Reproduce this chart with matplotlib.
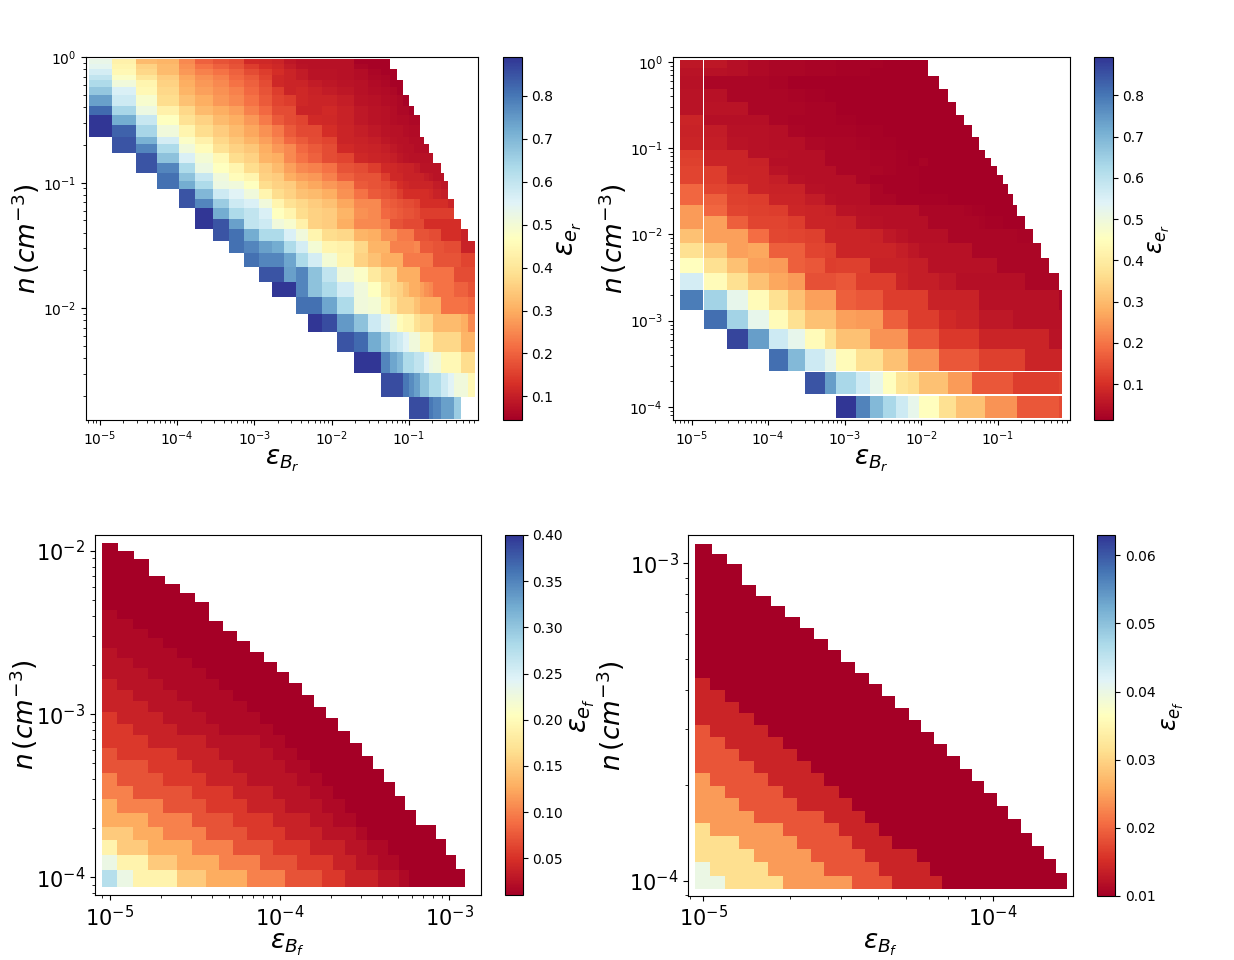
import numpy as np
import matplotlib
matplotlib.use('Agg')
import matplotlib.pyplot as plt
from matplotlib.cm import ScalarMappable
from matplotlib.colors import Normalize

nan = np.nan

# ---- panel 1: reverse shock, first set (log10 of eps_B and n) ----
a_x = [-5.142, -4.845, -4.534, -4.262, -3.977, -3.770, -3.537, -3.330, -3.136, -2.942, -2.773, -2.618,
       -2.463, -2.307, -2.126, -1.932, -1.712, -1.531, -1.362, -1.246, -1.155, -1.078, -1.000, -0.935,
       -0.858, -0.806, -0.741, -0.689, -0.586, -0.547, -0.495, -0.417, -0.327, -0.236, -0.146]
a_y = [-0.010, -0.053, -0.093, -0.141, -0.181, -0.237, -0.301, -0.388, -0.460, -0.540, -0.636, -0.691,
       -0.763, -0.843, -0.923, -0.986, -1.050, -1.130, -1.202, -1.289, -1.369, -1.465, -1.561, -1.672,
       -1.792, -1.911, -2.047, -2.191, -2.350, -2.518, -2.709, -2.884]
a_start = [0, 0, 0, 0, 0, 0, 0, 0, 0, 0, 1, 1, 2, 2, 3, 3, 4, 4, 5, 5, 6, 7, 8, 9, 10, 12, 13, 15, 16, 18, 22]
a_rows = [
    [.53, .43, .32, .31, .25, .2, .18, .17, .12, .115, .11, .085, .075, .075, .075, .075, .05, .05, .05],
    [.54, .44, .36, .32, .26, .22, .2, .18, .15, .125, .115, .095, .08, .075, .075, .075, .055, .05, .05],
    [.57, .45, .37, .32, .27, .24, .22, .2, .17, .15, .125, .11, .095, .08, .08, .075, .07, .055, .05, .05],
    [.60, .48, .40, .35, .29, .26, .24, .21, .19, .16, .115, .11, .095, .08, .08, .075, .07, .06, .055, .05],
    [.63, .51, .44, .36, .30, .27, .25, .22, .2, .17, .115, .11, .11, .095, .085, .08, .075, .065, .06, .05, .05],
    [.67, .56, .45, .37, .31, .28, .26, .24, .21, .18, .15, .11, .115, .105, .095, .085, .075, .07, .065, .06, .05],
    [.74, .58, .49, .38, .33, .30, .27, .25, .22, .19, .16, .15, .115, .11, .11, .10, .08, .075, .07, .065, .06, .05],
    [.82, .64, .52, .43, .37, .32, .30, .28, .24, .21, .17, .17, .11, .11, .12, .105, .09, .08, .075, .07, .06, .06, .05],
    [.89, .72, .59, .47, .39, .36, .32, .30, .27, .23, .19, .17, .16, .12, .115, .105, .09, .08, .075, .07, .065, .065, .06, .06],
    [.89, .83, .64, .51, .44, .38, .35, .32, .29, .26, .23, .19, .165, .165, .125, .11, .10, .09, .08, .075, .075, .07, .065, .065],
    [.85, .71, .57, .48, .43, .37, .34, .31, .28, .25, .21, .19, .17, .16, .11, .105, .10, .085, .08, .075, .075, .07, .07, .065],
    [.85, .78, .63, .51, .46, .39, .36, .34, .30, .27, .25, .21, .19, .17, .12, .11, .105, .10, .09, .08, .075, .075, .07, .07, .07],
    [.85, .68, .56, .50, .45, .38, .36, .31, .30, .25, .22, .2, .17, .16, .115, .11, .105, .10, .085, .08, .075, .075, .075, .075, .075],
    [.85, .78, .63, .52, .47, .44, .38, .35, .32, .28, .25, .24, .22, .18, .17, .15, .12, .115, .11, .105, .105, .095, .08, .08, .08, .08],
    [.81, .68, .59, .51, .46, .44, .36, .35, .30, .28, .27, .24, .2, .18, .18, .15, .115, .115, .105, .105, .105, .105, .095, .085, .08, .08],
    [.81, .72, .63, .52, .51, .47, .38, .36, .35, .31, .29, .27, .25, .19, .18, .17, .15, .125, .115, .11, .11, .11, .11, .11, .095, .085, .085],
    [.85, .70, .58, .55, .51, .44, .38, .36, .33, .32, .30, .26, .22, .19, .18, .17, .15, .125, .125, .125, .125, .125, .12, .105, .10, .10],
    [.85, .78, .66, .58, .56, .51, .44, .39, .37, .35, .33, .29, .25, .25, .2, .19, .18, .17, .17, .16, .125, .125, .125, .125, .125, .125, .11],
    [.89, .72, .63, .60, .56, .47, .44, .38, .36, .35, .31, .26, .25, .21, .2, .19, .18, .18, .17, .15, .15, .15, .15, .15, .15, .15],
    [.89, .85, .74, .6, .58, .51, .49, .43, .36, .35, .30, .25, .25, .24, .18, .18, .165, .165, .165, .165, .125, .125, .125, .125, .125, .125, .125],
    [.85, .81, .72, .63, .63, .56, .51, .44, .38, .37, .31, .30, .26, .26, .23, .23, .23, .18, .18, .18, .17, .17, .125, .125, .125, .125, .105],
    [.81, .78, .74, .72, .63, .57, .50, .44, .43, .37, .31, .31, .24, .24, .24, .24, .25, .19, .19, .19, .18, .18, .17, .17, .17, .105, .105],
    [.81, .78, .78, .73, .63, .57, .50, .44, .36, .33, .30, .30, .30, .23, .23, .23, .23, .23, .23, .18, .18, .18, .18, .18, .16, .16],
    [.85, .85, .74, .78, .68, .6, .51, .48, .41, .37, .37, .3, .3, .3, .3, .22, .22, .22, .22, .22, .22, .22, .17, .17, .17],
    [.89, .89, .78, .68, .63, .57, .51, .47, .40, .37, .36, .33, .30, .30, .28, .26, .25, .22, .22, .22, .22, .2, .2, .18],
    [.81, .81, .73, .63, .51, .5, .44, .40, .36, .36, .36, .33, .3, .3, .3, .3, .22, .22, .22, .22, .22, .21],
    [.89, .86, .75, .68, .58, .54, .51, .46, .44, .44, .39, .37, .37, .37, .32, .32, .32, .32, .32, .3, .25],
    [.85, .82, .72, .66, .6, .58, .55, .51, .51, .44, .44, .44, .37, .37, .37, .37, .37, .31, .31],
    [.89, .89, .78, .73, .70, .63, .63, .6, .6, .55, .52, .51, .45, .45, .45, .45, .38, .38],
    [.86, .86, .86, .8, .77, .74, .68, .68, .63, .63, .58, .58, .55, .51, .51, .45],
    [.86, .86, .86, .86, .8, .78, .74, .74, .74, .66],
]
a_cbar_ticks = [.1, .2, .3, .4, .5, .6, .7, .8]

# ---- panel 2: reverse shock, second set ----
b_x = [-5.153, -4.856, -4.835, -4.542, -4.260, -3.990, -3.735, -3.519, -3.258, -3.114, -2.856, -2.669,
       -2.495, -2.329, -2.176, -2.035, -1.905, -1.767, -1.654, -1.539, -1.441, -1.340, -1.245, -1.166,
       -1.088, -1.003, -0.931, -0.865, -0.800, -0.748, -0.643, -0.545, -0.434, -0.329, -0.199, -0.160]
b_y = [0.020, -0.073, -0.166, -0.316, -0.467, -0.618, -0.733, -0.873, -1.023, -1.116, -1.208, -1.313,
       -1.417, -1.533, -1.660, -1.788, -1.939, -2.101, -2.269, -2.449, -2.646, -2.877, -3.097, -3.329,
       -3.584, -3.601, -3.845, -3.870, -4.134]
b_start = [0, 0, 0, 0, 0, 0, 0, 0, 0, 0, 0, 0, 0, 0, 0, 0, 0, 0, 0, 0, 0, 2, 3, 5, 0, 7, 0, 9]
b_rows = [
    [.055, nan, .055, .042, .033, .025, .025, .02, .02, .018, .018, .018, .015, .015, .015, .015],
    [.05, nan, .045, .042, .033, .025, .025, .02, .02, .018, .018, .015, .015, .015, .015, .015],
    [.045, nan, .025, .025, .025, .02, .015, .015, .015, .015, .015, .015, .015, .015, .015, .015, .015],
    [.05, nan, .045, .025, .025, .025, .02, .018, .015, .015, .015, .015, .015, .015, .015, .015, .015, .015],
    [.05, nan, .05, .05, .025, .025, .025, .02, .02, .015, .015, .015, .015, .015, .015, .015, .015, .015, .015],
    [.08, nan, .042, .042, .042, .025, .02, .02, .02, .018, .015, .015, .015, .015, .015, .015, .015, .015, .015, .015],
    [.075, nan, .065, .045, .045, .042, .025, .02, .02, .02, .018, .018, .015, .015, .015, .015, .015, .015, .015, .015, .015],
    [.08, nan, .07, .05, .045, .042, .042, .03, .025, .025, .02, .018, .018, .015, .015, .015, .015, .015, .015, .015, .015, .015],
    [.12, nan, .08, .08, .045, .045, .042, .042, .025, .025, .025, .02, .02, .018, .015, .015, .015, .015, .015, .015, .015, .015, .015],
    [.125, nan, .08, .08, .075, .042, .042, .042, .025, .025, .025, .02, .02, .018, .015, .022, .015, .015, .015, .015, .015, .015, .015, .015],
    [.13, nan, .12, .08, .08, .05, .042, .042, .042, .025, .025, .025, .02, .018, .018, .015, .015, .015, .015, .015, .015, .015, .015, .015, .015],
    [.13, nan, .12, .085, .08, .07, .045, .042, .042, .042, .025, .018, .018, .018, .018, .015, .015, .015, .015, .015, .015, .015, .015, .015, .015, .015],
    [.18, nan, .13, .12, .08, .075, .075, .045, .042, .042, .042, .025, .018, .018, .018, .015, .015, .015, .015, .015, .015, .015, .015, .015, .015, .015, .015],
    [.18, nan, .17, .125, .12, .08, .08, .065, .045, .042, .042, .025, .025, .018, .018, .018, .018, .018, .015, .015, .015, .015, .015, .015, .015, .015, .015, .015],
    [.25, nan, .18, .13, .125, .12, .085, .08, .075, .05, .045, .042, .042, .042, .042, .025, .025, .025, .025, .025, .02, .018, .018, .015, .015, .015, .015, .015, .015],
    [.25, nan, .26, .17, .13, .13, .12, .08, .08, .075, .05, .045, .042, .042, .042, .042, .025, .025, .025, .025, .025, .025, .02, .018, .018, .018, .015, .015, .015, .015],
    [.31, nan, .26, .26, .19, .135, .13, .125, .08, .08, .08, .075, .06, .05, .042, .042, .042, .042, .025, .025, .025, .025, .025, .025, .025, .025, .025, .025, .025, .02, .02],
    [.37, nan, .32, .26, .27, .17, .17, .13, .125, .08, .08, .08, .08, .07, .055, .045, .045, .045, .045, .045, .045, .025, .025, .025, .025, .025, .025, .025, .025, .025, .025, .025],
    [.45, nan, .37, .31, .26, .25, .17, .16, .12, .125, .125, .075, .075, .075, .07, .07, .045, .045, .045, .045, .045, .045, .045, .045, .045, .025, .025, .025, .025, .025, .025, .025, .025],
    [.56, nan, .44, .37, .31, .27, .25, .15, .15, .16, .12, .12, .12, .08, .07, .07, .07, .06, .06, .042, .042, .042, .042, .042, .042, .042, .042, .042, .042, .042, .025, .025, .025, .025],
    [.79, nan, .64, .52, .44, .37, .31, .26, .26, .17, .16, .16, .12, .12, .12, .12, .075, .075, .075, .075, .075, .075, .045, .045, .045, .045, .045, .045, .045, .045, .045, .045, .045, .045, .025],
    [.81, .64, .52, .44, .37, .31, .31, .26, .25, .25, .17, .17, .12, .12, .12, .09, .09, .08, .08, .08, .06, .06, .06, .06, .06, .06, .045, .045, .045, .045, .045, .045, .045],
    [.87, .74, .57, .52, .44, .37, .31, .31, .24, .24, .24, .16, .16, .16, .115, .115, .115, .115, .115, .08, .08, .08, .08, .08, .08, .08, .08, .08, .08, .08, .05, .05],
    [.81, .69, .57, .52, .44, .37, .37, .31, .31, .24, .24, .24, .16, .16, .16, .16, .16, .125, .125, .125, .125, .125, .125, .125, .125, .08, .08, .08, .08, .08],
    [],
    [.85, .74, .63, .57, .52, .45, .38, .36, .31, .31, .31, .25, .25, .25, .16, .16, .16, .16, .16, .16, .16, .12, .12, .12, .12, .12, .12, .13],
    [],
    [.89, .78, .69, .63, .57, .52, .45, .45, .37, .37, .31, .31, .31, .31, .24, .24, .24, .24, .24, .24, .16, .16, .16, .16, .16, .14],
]
b_cbar_ticks = [.1, .2, .3, .4, .5, .6, .7, .8]

# ---- panel 3: forward shock, first set ----
c_x = [-5.049, -4.951, -4.859, -4.768, -4.676, -4.587, -4.501, -4.418, -4.334, -4.253, -4.173, -4.094,
       -4.018, -3.943, -3.868, -3.796, -3.725, -3.654, -3.585, -3.517, -3.452, -3.385, -3.322, -3.261,
       -3.198, -3.138, -3.079, -3.020, -2.963, -2.906]
c_top = [-1.950, -1.999, -2.050, -2.152, -2.205, -2.260, -2.315, -2.430, -2.489, -2.550, -2.618, -2.679,
         -2.744, -2.811, -2.883, -2.955, -3.026, -3.102, -3.179, -3.254, -3.336, -3.418, -3.502, -3.588,
         -3.678, -3.678, -3.765, -3.862, -3.951]
c_bottom = -4.058
c_floor = .01
c_band_x = [-5.049, -4.961, -4.866, -4.774, -4.690, -4.603, -4.519, -4.434, -4.356, -4.273, -4.194, -4.116,
            -4.037, -3.969, -3.896, -3.821, -3.752, -3.684, -3.615, -3.550, -3.487, -3.422, -3.360, -3.295,
            -3.238]
c_band_y = [-2.362, -2.419, -2.479, -2.536, -2.593, -2.658, -2.716, -2.785, -2.852, -2.918, -2.987, -3.059,
            -3.130, -3.205, -3.281, -3.359, -3.441, -3.522, -3.604, -3.690, -3.771, -3.865, -3.955, -4.058]
c_rows = [
    [.018],
    [.018, .018],
    [.018, .018, .018],
    [.018, .018, .018, .018],
    [.026, .018, .018, .018, .018],
    [.026, .026, .018, .018, .018, .018],
    [.026, .026, .026, .018, .018, .018, .018],
    [.038, .026, .026, .026, .018, .018, .018, .018],
    [.038, .038, .026, .026, .026, .018, .018, .018, .018],
    [.038, .038, .038, .026, .026, .026, .018, .018, .018, .018],
    [.055, .038, .038, .038, .026, .026, .026, .018, .018, .018, .018],
    [.055, .055, .038, .038, .038, .026, .026, .026, .018, .018, .018, .018],
    [.055, .055, .055, .038, .038, .038, .038, .026, .026, .026, .026, .018, .018],
    [.072, .055, .055, .055, .055, .038, .038, .038, .026, .026, .026, .026, .018, .018],
    [.072, .072, .072, .055, .055, .055, .038, .038, .038, .026, .026, .026, .026, .018, .018],
    [.10, .072, .072, .072, .055, .055, .055, .038, .038, .038, .026, .026, .026, .026, .018, .018],
    [.10, .10, .072, .072, .072, .072, .055, .055, .055, .038, .038, .038, .026, .026, .026, .018, .018],
    [.127, .10, .10, .10, .072, .072, .072, .055, .055, .055, .038, .038, .038, .026, .026, .026, .018, .018],
    [.127, .127, .127, .10, .10, .10, .072, .072, .072, .055, .055, .055, .038, .038, .038, .026, .026, .018, .018],
    [.15, .15, .127, .127, .10, .10, .10, .072, .072, .072, .055, .055, .055, .038, .038, .038, .026, .026, .026, .018],
    [.19, .15, .15, .127, .127, .127, .10, .10, .10, .072, .072, .072, .055, .055, .055, .038, .038, .038, .026, .026, .018, .018],
    [.23, .19, .19, .15, .15, .127, .127, .127, .10, .10, .10, .072, .072, .072, .055, .055, .055, .038, .038, .026, .026, .018, .018],
    [.275, .23, .19, .19, .19, .15, .15, .127, .127, .127, .10, .10, .10, .072, .072, .072, .055, .055, .038, .038, .038, .026, .026, .018],
]
c_cbar_ticks = [.05, .10, .15, .20, .25, .30, .35, .40]

# ---- panel 4: forward shock, second set ----
d_x = [-5.029, -4.971, -4.919, -4.868, -4.817, -4.767, -4.717, -4.667, -4.619, -4.570, -4.523, -4.476,
       -4.429, -4.384, -4.338, -4.291, -4.247, -4.202, -4.158, -4.115, -4.073, -4.029, -3.987, -3.946,
       -3.904, -3.863, -3.824, -3.783, -3.743]
d_top = [-2.940, -2.972, -3.003, -3.068, -3.102, -3.136, -3.170, -3.205, -3.239, -3.274, -3.310, -3.346,
         -3.381, -3.418, -3.456, -3.494, -3.532, -3.569, -3.608, -3.647, -3.686, -3.725, -3.766, -3.807,
         -3.848, -3.889, -3.932, -3.974]
d_bottom = -4.027
d_floor = .01
d_band_x = [-5.029, -4.977, -4.925, -4.876, -4.825, -4.775, -4.726, -4.676, -4.628, -4.582, -4.533, -4.486,
            -4.440, -4.393, -4.349, -4.262, -4.217, -4.174]
d_band_y = [-3.362, -3.399, -3.436, -3.472, -3.509, -3.547, -3.585, -3.623, -3.662, -3.700, -3.739, -3.780,
            -3.819, -3.859, -3.900, -3.942, -3.984, -4.027]
d_rows = [
    [.014],
    [.014, .014],
    [.014, .014, .014],
    [.014, .014, .014, .014],
    [.0185, .014, .014, .014, .014],
    [.0185, .0185, .014, .014, .014, .014],
    [.0185, .0185, .0185, .014, .014, .014, .014],
    [.0185, .0185, .0185, .0185, .014, .014, .014, .014],
    [.0243, .0185, .0185, .0185, .0185, .014, .014, .014, .014],
    [.0243, .0243, .0185, .0185, .0185, .0185, .014, .014, .014, .014],
    [.0243, .0243, .0243, .0185, .0185, .0185, .0185, .014, .014, .014, .014],
    [.0243, .0243, .0243, .0243, .0185, .0185, .0185, .0185, .0185, .014, .014, .014],
    [.0312, .0243, .0243, .0243, .0243, .0243, .0185, .0185, .0185, .0185, .014, .014, .014],
    [.0312, .0312, .0312, .0243, .0243, .0243, .0243, .0185, .0185, .0185, .0185, .014, .014, .014],
    [.0312, .0312, .0312, .0312, .0243, .0243, .0243, .0243, .0185, .0185, .0185, .0185, .014, .014, .014],
    [.04, .0312, .0312, .0312, .0312, .0243, .0243, .0243, .0243, .0185, .0185, .0185, .0185, .014, .014, .014],
    [.04, .04, .0312, .0312, .0312, .0312, .0243, .0243, .0243, .0243, .0243, .0185, .0185, .0185, .014, .014, .014],
]
d_cbar_ticks = [.01, .02, .03, .04, .05, .06]

W, H = 1234, 960


def box(left, top, right, bottom):
    # pixel box of the original picture -> figure fractions
    return [left / W, 1 - bottom / H, (right - left) / W, (bottom - top) / H]


def to_matrix(rows, starts, ncols):
    m = np.full((len(rows), ncols), np.nan)
    for i, row in enumerate(rows):
        m[i, starts[i]:starts[i] + len(row)] = row
    return m


def style_axes(ax, xlim, ylim, xlabel, ylabel, tick_size, xpos, ypos):
    ax.set_xscale('log')
    ax.set_yscale('log')
    ax.set_xlim(10.0 ** xlim[0], 10.0 ** xlim[1])
    ax.set_ylim(10.0 ** ylim[0], 10.0 ** ylim[1])
    ax.tick_params(axis='both', which='major', labelsize=tick_size)
    ax.set_xlabel(xlabel, fontsize=19)
    ax.set_ylabel(ylabel, fontsize=19)
    ax.xaxis.set_label_coords(0.5, xpos)
    ax.yaxis.set_label_coords(ypos, 0.5)


def add_cbar(fig, pos, norm, ticks, label, fmt, labelpad, size):
    cax = fig.add_axes(box(*pos))
    sm = ScalarMappable(norm=norm, cmap='RdYlBu')
    cb = fig.colorbar(sm, cax=cax, ticks=ticks, format=fmt)
    cb.ax.tick_params(labelsize=10)
    cb.set_label(label, fontsize=size, labelpad=labelpad)


def draw_bands(ax, x, top, bottom, floor, band_x, band_y, rows, norm):
    # darkest level fills every column, the other levels sit on top of it
    for i in range(len(top)):
        ax.pcolormesh(10.0 ** np.array(x[i:i + 2]), 10.0 ** np.array([bottom, top[i]]),
                      [[floor]], cmap='RdYlBu', norm=norm)
    ax.pcolormesh(10.0 ** np.array(band_x), 10.0 ** np.array(band_y),
                  to_matrix(rows, [0] * len(rows), len(band_x) - 1), cmap='RdYlBu', norm=norm)


fig = plt.figure(figsize=(W / 100, H / 100), dpi=100)

# panel 1
ax1 = fig.add_axes(box(85.7, 57.3, 478.3, 420))
norm1 = Normalize(.045, .89)
ax1.pcolormesh(10.0 ** np.array(a_x), 10.0 ** np.array(a_y),
               to_matrix(a_rows, a_start, len(a_x) - 1), cmap='RdYlBu', norm=norm1)
style_axes(ax1, (-5.185, -0.103), (-2.892, 0), r'$\varepsilon_{B_r}$', r'$n\,(cm^{-3})$', 10, -0.075, -0.112)
add_cbar(fig, (503.3, 57.3, 521.7, 420), norm1, a_cbar_ticks, r'$\varepsilon_{e_r}$', '%.1f', 2, 20)

# panel 2
ax2 = fig.add_axes(box(672.7, 57.3, 1070, 420))
norm2 = Normalize(.013, .892)
ax2.pcolormesh(10.0 ** np.array(b_x), 10.0 ** np.array(b_y),
               to_matrix(b_rows, b_start, len(b_x) - 1), cmap='RdYlBu', norm=norm2)
style_axes(ax2, (-5.248, -0.055), (-4.152, 0.051), r'$\varepsilon_{B_r}$', r'$n\,(cm^{-3})$', 10, -0.075, -0.11)
add_cbar(fig, (1094.3, 57.3, 1112.7, 420), norm2, b_cbar_ticks, r'$\varepsilon_{e_r}$', '%.1f', 2, 17)

# panel 3
ax3 = fig.add_axes(box(95, 535, 480.7, 895.3))
norm3 = Normalize(.01, .40)
draw_bands(ax3, c_x, c_top, c_bottom, c_floor, c_band_x, c_band_y, c_rows, norm3)
style_axes(ax3, (-5.088, -2.816), (-4.110, -1.902), r'$\varepsilon_{B_f}$', r'$n\,(cm^{-3})$', 15, -0.1, -0.143)
add_cbar(fig, (505, 535, 522.5, 895.3), norm3, c_cbar_ticks, r'$\varepsilon_{e_f}$', '%.2f', 4, 20)

# panel 4
ax4 = fig.add_axes(box(688.3, 535, 1072.7, 895.7))
norm4 = Normalize(.01, .063)
draw_bands(ax4, d_x, d_top, d_bottom, d_floor, d_band_x, d_band_y, d_rows, norm4)
style_axes(ax4, (-5.052, -3.724), (-4.047, -2.911), r'$\varepsilon_{B_f}$', r'$n\,(cm^{-3})$', 15, -0.1, -0.159)
add_cbar(fig, (1097, 535, 1115, 895.7), norm4, d_cbar_ticks, r'$\varepsilon_{e_f}$', '%.2f', 4, 17)

fig.savefig('out.png', dpi=100)
